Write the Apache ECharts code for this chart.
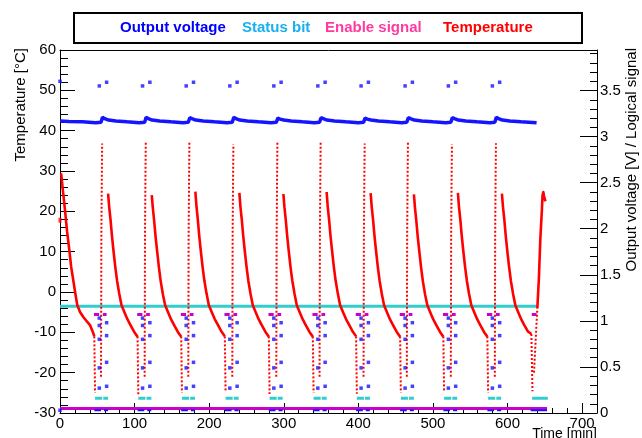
<!DOCTYPE html>
<html><head><meta charset="utf-8">
<script src="https://cdn.jsdelivr.net/npm/echarts@6/dist/echarts.min.js"></script>
<style>html,body{margin:0;padding:0;background:#fff}#c{width:642px;height:438px}</style>
</head><body><div id="c"></div>
<script>
// ---------------- data ----------------
const xTickLabels = ['0','100','200','300','400','500','600','700'];
const rightTickLabels = ['0','0.5','1','1.5','2','2.5','3','3.5'];

// Output voltage main trace [time, V]
const outputVoltage = [
 [0,3.17],[12,3.165],[30,3.16],[48,3.15],[55,3.155],[57,3.21],[60,3.195],[65,3.18],[75,3.17],[90,3.16],[106,3.15],
 [113.5,3.155],[115.5,3.21],[118.5,3.195],[123.5,3.18],[133.5,3.17],[148.5,3.16],[165,3.15],
 [172,3.155],[174,3.205],[177,3.195],[182,3.18],[192,3.17],[207,3.16],[224,3.15],
 [231,3.155],[233,3.21],[236,3.195],[241,3.18],[251,3.17],[266,3.16],[283,3.15],
 [290,3.155],[292,3.2],[295,3.19],[300,3.18],[310,3.17],[325,3.16],[341,3.15],
 [348,3.155],[350,3.205],[353,3.195],[358,3.18],[368,3.17],[383,3.16],[400,3.15],
 [407,3.155],[409,3.2],[412,3.19],[417,3.18],[427,3.17],[442,3.16],[458,3.15],
 [465,3.155],[467,3.205],[470,3.195],[475,3.18],[485,3.17],[500,3.16],[517,3.15],
 [524,3.155],[526,3.205],[529,3.195],[534,3.18],[544,3.17],[559,3.16],[576,3.15],
 [583,3.155],[585,3.21],[588,3.195],[593,3.18],[603,3.17],[618,3.16],[639,3.15]
];
// Output voltage isolated samples around each switching
const blueDotTimesA = [52.7,110.7,169.2,227.7,286.7,345.7,403.7,462.7,520.7,579.7];
const blueDotLevelsA = [3.55,1.03,0.95,0.80,0.49,0.27];
const blueDotTimesB = [62.5,120.5,179,237.5,296.5,355.5,413.5,472.5,530.5,589.5];
const blueDotLevelsB = [3.59,0.98,0.84,0.55,0.29];
const blueEdgeDots = [[0,3.6],[0,0.03]];
const blueLowLevel = 0.03;
const blueLowSegments = [[46,55],[59,64.5],[104,113],[117,122.5],[162.5,171.5],[175.5,181],[221,230],[234,239.5],[280,289],[293,298.5],[339,348],[352,357.5],[397,406],[410,415.5],[456,465],[469,474.5],[514,523],[527,532.5],[573,582],[586,591.5],[631,653]];

// Status bit
const statusHighLevel = 1.16;
const statusHighRange = [0,639];
const statusLowLevel = 0.16;
const statusLowSegments = [[47,56.5],[58,64.5],[105,114.5],[116,122.5],[163.5,173],[174.5,181],[222,231.5],[233,239.5],[281,290.5],[292,298.5],[340,349.5],[351,357.5],[398,407.5],[409,415.5],[457,466.5],[468,474.5],[515,524.5],[526,532.5],[574,583.5],[585,591.5],[633,654]];

// Enable signal
const enableLowLevel = 0.05;
const enableLowRange = [0,653];
const enableHighLevel = 1.07;
const enableHighSegments = [[45.5,52.5],[57.5,62.5],[103.5,110.5],[115.5,120.5],[162,169],[174,179],[220.5,227.5],[232.5,237.5],[279.5,286.5],[291.5,296.5],[338.5,345.5],[350.5,355.5],[396.5,403.5],[408.5,413.5],[455.5,462.5],[467.5,472.5],[513.5,520.5],[525.5,530.5],[572.5,579.5],[584.5,589.5],[632.5,639]];

// Temperature [time, °C]
const tempFirstPoint = [[0,17.8]];
const tempFirstDecay = [[1.5,29.4],[4,25],[6.7,20.3],[9.5,15],[12.5,10.4],[15,6.2],[17.8,2.9],[20.5,-0.3],[23.2,-3.3],[27,-5],[31.3,-6.2],[36,-7.3],[40.2,-8.2],[44,-9.9],[46,-11]];
const tempDecayTimes = [
 [64.5,66,67.8,69.5,71.5,74,76.5,79.5,82.5,86.5,90.5,94.5,99.5,104],
 [123,124.5,126.3,128,130,132.5,135,138,141,145,149,153,158,162.5],
 [181.5,183,184.8,186.5,188.5,191,193.5,196.5,199.5,203.5,207.5,211.5,216.5,221],
 [240.5,242,243.8,245.5,247.5,250,252.5,255.5,258.5,262.5,266.5,270.5,275.5,280],
 [299.5,301,302.8,304.5,306.5,309,311.5,314.5,317.5,321.5,325.5,329.5,334.5,339],
 [357.5,359,360.8,362.5,364.5,367,369.5,372.5,375.5,379.5,383.5,387.5,392.5,397],
 [416.5,418,419.8,421.5,423.5,426,428.5,431.5,434.5,438.5,442.5,446.5,451.5,456],
 [474.5,476,477.8,479.5,481.5,484,486.5,489.5,492.5,496.5,500.5,504.5,509.5,514],
 [533.5,535,536.8,538.5,540.5,543,545.5,548.5,551.5,555.5,559.5,563.5,568.5,573],
 [592.5,594,595.8,597.5,599.5,602,604.5,607.5,610.5,614.5,618.5,622.5,627.5,632]
];
const tempDecayValues = [
 [24.4,21,17.8,14.2,10.6,6.4,2.8,-0.5,-3.3,-5.1,-6.8,-8.2,-9.9,-11.1],
 [24.0,20.8,17.6,14.0,10.5,6.3,2.7,-0.6,-3.3,-5.1,-6.8,-8.2,-9.9,-11.1],
 [24.9,21.2,17.9,14.3,10.7,6.5,2.9,-0.4,-3.2,-5.0,-6.7,-8.1,-9.8,-11.0],
 [24.6,21.0,17.8,14.2,10.6,6.4,2.8,-0.5,-3.3,-5.1,-6.8,-8.2,-9.9,-11.1],
 [24.3,20.9,17.7,14.1,10.5,6.3,2.8,-0.5,-3.3,-5.1,-6.8,-8.2,-9.9,-11.1],
 [24.8,21.1,17.9,14.3,10.7,6.5,2.9,-0.4,-3.2,-5.0,-6.7,-8.1,-9.8,-11.0],
 [24.5,21.0,17.8,14.2,10.6,6.4,2.8,-0.5,-3.3,-5.1,-6.8,-8.2,-9.9,-11.1],
 [24.2,20.8,17.6,14.0,10.5,6.3,2.7,-0.6,-3.3,-5.1,-6.8,-8.2,-9.9,-11.1],
 [24.6,21.0,17.8,14.2,10.6,6.4,2.8,-0.5,-3.3,-5.1,-6.8,-8.2,-9.9,-11.1],
 [24.4,21.0,17.8,14.2,10.6,6.4,2.8,-0.5,-3.3,-5.1,-6.8,-8.2,-9.8,-10.4]
];
const tempDrops = [
 [[46,-11],[47,-25]],[[104,-11],[105,-25.5]],[[162.5,-11],[163.5,-25]],[[221,-11],[222,-24.8]],
 [[280,-11],[281,-25.3]],[[339,-11],[340,-25]],[[397,-11],[398,-25.2]],[[456,-11],[457,-25]],
 [[514,-11],[515,-24.8]],[[573,-11],[574,-25]],[[632,-10.4],[633.5,-24.6]]
];
const tempRises = [
 [[55,-21],[55.5,15],[56,27],[56.5,36.8]],
 [[113.5,-21],[114,15],[114.5,27],[115,37.2]],
 [[172,-21],[172.5,15],[173,27],[173.5,37]],
 [[231,-21],[231.5,15],[232,27],[232.5,36.6]],
 [[290,-21],[290.5,15],[291,27],[291.5,37]],
 [[348,-21],[348.5,15],[349,27],[349.5,37.4]],
 [[407,-21],[407.5,15],[408,27],[408.5,36.8]],
 [[465,-21],[465.5,15],[466,27],[466.5,37.2]],
 [[524,-21],[524.5,15],[525,27],[525.5,36.6]],
 [[583,-21],[583.5,15],[584,27],[584.5,36.9]],
 [[635.5,-20],[640,-4]]
];
const tempFinalRise = [[640,-4],[642,3],[644,13],[646,20],[647,24],[648,24.8],[649,23.8],[650,23],[651,22.5]];

// ---------------- chart ----------------
const RED = '#ff0000', BLUE = '#1414ff', CYAN = '#33cccc', MAG = '#cc00cc';
const FONT = '"Liberation Sans", Arial, Helvetica, sans-serif';

function segs(list, level) { return list.map(s => ({ coords: [[s[0], level], [s[1], level]] })); }
function linesSeries(data, color, width, yIdx, dash) {
  return { type: 'lines', coordinateSystem: 'cartesian2d', xAxisIndex: 0, yAxisIndex: yIdx, polyline: true, silent: true,
    lineStyle: { color: color, width: width, opacity: 1, type: dash || 'solid', cap: 'butt', join: 'round' }, effect: { show: false }, data: data };
}
const blueDots = [];
blueDotTimesA.forEach(t => blueDotLevelsA.forEach(v => blueDots.push([t, v])));
blueDotTimesB.forEach(t => blueDotLevelsB.forEach(v => blueDots.push([t, v])));
blueEdgeDots.forEach(p => blueDots.push(p));

const decaySeriesData = [{ coords: tempFirstDecay }].concat(
  tempDecayTimes.map((ts, i) => ({ coords: ts.map((t, j) => [t, tempDecayValues[i][j]]) })),
  [{ coords: tempFinalRise }]
);

const axisLineStyle = { color: '#000', width: 1 };
const labelStyle = { fontSize: 15, color: '#000', fontFamily: FONT };

const option = {
  animation: false,
  backgroundColor: '#fff',
  grid: { left: 60, right: 45, top: 50, bottom: 25, containLabel: false, outerBoundsMode: 'none' },
  xAxis: [
    { type: 'value', position: 'bottom', min: 0, max: 720, interval: 100,
      axisLine: { onZero: false, lineStyle: axisLineStyle },
      axisTick: { inside: true, length: 10, lineStyle: axisLineStyle },
      axisLabel: Object.assign({ margin: 3, formatter: v => (v % 100 === 0 ? xTickLabels[v / 100] : '') }, labelStyle),
      splitLine: { show: false } },
    { type: 'value', position: 'bottom', min: 0, max: 720, interval: 20,
      axisLine: { show: false, onZero: false },
      axisTick: { inside: true, length: 5, lineStyle: axisLineStyle },
      axisLabel: { show: false }, splitLine: { show: false } },
    { type: 'value', position: 'top', min: 0, max: 720,
      axisLine: { onZero: false, lineStyle: axisLineStyle },
      axisTick: { show: false }, axisLabel: { show: false }, splitLine: { show: false } }
  ],
  yAxis: [
    { type: 'value', position: 'left', min: -30, max: 60, interval: 10,
      axisLine: { onZero: false, lineStyle: axisLineStyle },
      axisTick: { inside: true, length: 15, lineStyle: axisLineStyle },
      minorTick: { show: true, splitNumber: 5, length: 8, lineStyle: axisLineStyle },
      axisLabel: Object.assign({ margin: 4 }, labelStyle),
      splitLine: { show: false }, minorSplitLine: { show: false } },
    { type: 'value', position: 'right', min: 0, max: 3.94, interval: 0.5,
      axisLine: { onZero: false, lineStyle: axisLineStyle },
      axisTick: { inside: true, length: 17, lineStyle: axisLineStyle },
      axisLabel: Object.assign({ margin: 3, formatter: v => {
        const k = Math.round(v * 2); return Math.abs(v * 2 - k) < 1e-6 ? rightTickLabels[k] : ''; } }, labelStyle),
      splitLine: { show: false } },
    { type: 'value', position: 'right', min: 0, max: 3.94, interval: 0.1,
      axisLine: { show: false, onZero: false },
      axisTick: { inside: true, length: 7, lineStyle: axisLineStyle },
      axisLabel: { show: false }, splitLine: { show: false } }
  ],
  series: [
    linesSeries([{ coords: [[enableLowRange[0], enableLowLevel], [enableLowRange[1], enableLowLevel]] }], MAG, 3, 1),
    linesSeries(segs(enableHighSegments, enableHighLevel), MAG, 3, 1),
    linesSeries([{ coords: [[statusHighRange[0], statusHighLevel], [statusHighRange[1], statusHighLevel]] }], CYAN, 3, 1),
    linesSeries(segs(statusLowSegments, statusLowLevel), CYAN, 3, 1),
    linesSeries(segs(blueLowSegments, blueLowLevel), BLUE, 2, 1),
    { type: 'line', name: 'Output voltage', xAxisIndex: 0, yAxisIndex: 1, data: outputVoltage, symbol: 'none',
      lineStyle: { color: BLUE, width: 3.5 }, silent: true },
    { type: 'scatter', name: 'Output voltage samples', xAxisIndex: 0, yAxisIndex: 1, data: blueDots, symbol: 'rect', symbolSize: 3.5,
      itemStyle: { color: BLUE }, silent: true },
    linesSeries(tempDrops.map(c => ({ coords: c })), RED, 2, 0, [2, 2]),
    linesSeries(tempRises.map(c => ({ coords: c })), RED, 2, 0, [2, 2]),
    linesSeries(decaySeriesData, RED, 2.6, 0),
    { type: 'scatter', name: 'Temperature start', xAxisIndex: 0, yAxisIndex: 0, data: tempFirstPoint, symbol: 'rect', symbolSize: [3, 5],
      itemStyle: { color: RED }, silent: true }
  ],
  graphic: [
    { type: 'rect', shape: { x: 74, y: 13, width: 508, height: 30 }, style: { fill: '#fff', stroke: '#000', lineWidth: 2 } },
    { type: 'text', x: 120, y: 28, style: { text: 'Output voltage', fill: '#0000ff', font: 'bold 15px ' + FONT, textAlign: 'left', textVerticalAlign: 'middle', align: 'left', verticalAlign: 'middle' } },
    { type: 'text', x: 242, y: 28, style: { text: 'Status bit', fill: '#18b0f0', font: 'bold 15px ' + FONT, textAlign: 'left', textVerticalAlign: 'middle', align: 'left', verticalAlign: 'middle' } },
    { type: 'text', x: 325, y: 28, style: { text: 'Enable signal', fill: '#ff3aa0', font: 'bold 15px ' + FONT, textAlign: 'left', textVerticalAlign: 'middle', align: 'left', verticalAlign: 'middle' } },
    { type: 'text', x: 443, y: 28, style: { text: 'Temperature', fill: '#ff0000', font: 'bold 15px ' + FONT, textAlign: 'left', textVerticalAlign: 'middle', align: 'left', verticalAlign: 'middle' } },
    { type: 'text', x: 21, y: 48, rotation: Math.PI / 2, style: { text: 'Temperature [°C]', fill: '#000', font: '15px ' + FONT, textAlign: 'right', textVerticalAlign: 'middle', align: 'right', verticalAlign: 'middle' } },
    { type: 'text', x: 632, y: 48, rotation: Math.PI / 2, style: { text: 'Output voltage [V] / Logical signal', fill: '#000', font: '15px ' + FONT, textAlign: 'right', textVerticalAlign: 'middle', align: 'right', verticalAlign: 'middle' } },
    { type: 'text', x: 597, y: 427, style: { text: 'Time [min]', fill: '#000', font: '14px ' + FONT, textAlign: 'right', textVerticalAlign: 'top', align: 'right', verticalAlign: 'top' } }
  ]
};
const chart = echarts.init(document.getElementById('c'), null, { renderer: 'canvas' });
chart.setOption(option);
</script></body></html>
